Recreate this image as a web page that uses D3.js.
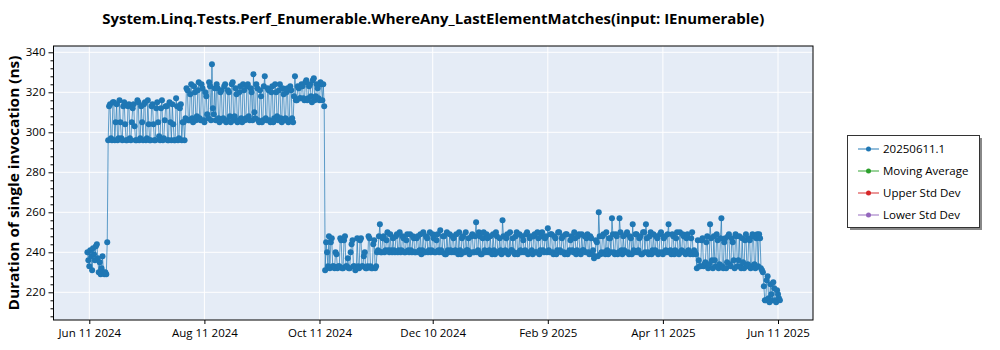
<!DOCTYPE html>
<html><head><meta charset="utf-8">
<script src="https://cdn.jsdelivr.net/npm/d3@7"></script>
<style>
body{margin:0;background:#fff;}
text{font-family:"Open Sans","Noto Sans",sans-serif;}
</style>
</head><body>
<svg id="chart" width="1000" height="350"></svg>
<script>
const chartTitle = "System.Linq.Tests.Perf_Enumerable.WhereAny_LastElementMatches(input: IEnumerable)";
const yAxisTitle = "Duration of single invocation (ns)";
const seriesNames = ["20250611.1", "Moving Average", "Upper Std Dev", "Lower Std Dev"];
const seriesColors = ["#1f77b4", "#2ca02c", "#d62728", "#9467bd"];
const xTickLabels = ["Jun 11 2024", "Aug 11 2024", "Oct 11 2024", "Dec 10 2024", "Feb 9 2025", "Apr 11 2025", "Jun 11 2025"];
const yTickValues = [220, 240, 260, 280, 300, 320, 340];

// two runs per day (morning / evening); each month array starts at the given date
const monthStarts = ["2024-06-10","2024-07-01","2024-08-01","2024-09-01","2024-10-01","2024-11-01","2024-12-01",
                     "2025-01-01","2025-02-01","2025-03-01","2025-04-01","2025-05-01","2025-06-01"];
// morning runs
const jun2024 = [240,233,238,242,236,244,230,229,238,229,229,296,314,296,315,305,296,316,297,313,304];
const jul2024 = [296,314,296,312,303,296,315,297,305,314,296,316,296,313,304,296,315,298,312,296,306,313,296,305,314,296,317,296,312,296,305];
const aug2024 = [307,321,306,324,305,320,308,325,306,322,305,318,307,323,334,309,306,322,305,321,307,324,306,320,305,325,308,319,306,323,305];
const sep2024 = [321,307,324,306,320,329,307,322,305,318,306,328,306,321,305,323,307,320,306,324,305,319,307,322,306,321,305,328,316,322];
const oct2024 = [317,323,316,326,317,324,315,327,318,322,316,324,324,231,240,248,245,233,232,239,233,247,232,246,233,237,232,244,233,231,247];
const nov2024 = [232,247,233,240,232,248,233,232,246,233,241,254,240,248,241,250,240,241,247,240,249,241,240,248,240,246,241,249,240,247];
const dec2024 = [240,248,241,239,250,240,247,241,240,249,240,246,241,251,240,248,239,241,249,240,247,241,240,250,239,248,240,241,247,240,249];
const jan2025 = [240,255,241,248,239,250,240,247,241,240,249,239,248,240,241,256,240,247,239,250,241,240,248,239,249,240,246,241,250,240,248];
const feb2025 = [239,249,240,247,241,250,240,248,252,240,249,239,247,241,250,240,248,239,249,240,246,241,250,239,248,240,249,241];
const mar2025 = [240,249,239,247,241,238,245,260,239,248,240,250,239,247,257,240,249,239,257,241,248,240,250,239,247,254,240,249,241,248,239];
const apr2025 = [250,254,240,248,239,249,241,247,240,250,239,248,240,254,241,249,239,247,240,250,241,248,239,249,240,247,239,240,232,236];
const may2025 = [233,247,234,245,232,254,236,248,233,246,234,257,232,247,235,249,233,245,232,248,236,233,247,232,249,234,246,233,248,232,249];
const jun2025 = [249,232,230,216,226,217,224,216,222,215,219,216];
// evening runs
const jun2024b = [236,241,231,239,243,237,235,232,230,230,245,313,297,315,296,314,297,305,296,315,296];
const jul2024b = [313,297,305,314,296,316,296,313,296,315,297,304,296,314,296,312,305,296,316,297,313,296,315,296,304,296,313,297,314,305,296];
const aug2024b = [322,306,319,307,323,306,321,307,324,306,320,309,325,306,312,322,324,307,320,306,323,305,321,308,324,306,322,305,320,307,324];
const sep2024b = [306,323,308,322,306,310,324,306,321,305,323,307,322,306,320,305,324,308,321,307,322,306,320,305,323,307,318,316,323,317];
const oct2024b = [324,317,325,316,323,318,326,316,324,317,325,316,313,245,233,232,247,233,240,232,233,246,232,248,233,232,240,246,233,232,233];
const nov2024b = [246,233,238,232,233,247,232,244,232,240,248,240,247,240,246,241,249,240,241,248,240,250,241,247,240,249,240,241,248,240];
const dec2024b = [247,240,249,241,240,248,240,250,241,247,240,249,240,241,248,239,250,240,241,248,240,249,239,241,247,240,250,241,239,248,240];
const jan2025b = [248,240,250,239,247,241,249,240,248,239,241,250,240,247,239,248,241,249,240,241,247,239,250,240,241,248,240,249,239,247,241];
const feb2025b = [248,240,250,239,248,241,247,240,241,249,240,248,239,250,241,247,240,249,239,241,248,240,247,241,249,239,241,248];
const mar2025b = [247,240,248,239,237,246,238,248,240,249,239,241,247,240,249,239,248,240,250,239,241,249,240,248,239,241,249,240,247,239,250];
const apr2025b = [240,247,239,250,241,240,248,239,249,240,247,241,249,240,239,248,241,250,239,240,249,240,247,241,239,250,241,239,246,233];
const may2025b = [246,233,235,248,234,247,232,236,249,232,247,233,245,232,248,234,247,236,249,233,248,232,235,246,233,247,232,249,234,247,233];
const jun2025b = [247,231,223,216,228,215,219,225,216,221,217];

const morning = [jun2024,jul2024,aug2024,sep2024,oct2024,nov2024,dec2024,jan2025,feb2025,mar2025,apr2025,may2025,jun2025];
const evening = [jun2024b,jul2024b,aug2024b,sep2024b,oct2024b,nov2024b,dec2024b,jan2025b,feb2025b,mar2025b,apr2025b,may2025b,jun2025b];

const parseISO = d3.utcParse("%Y-%m-%d");
const data = [];
function addRuns(list, hourOffset) {
  list.forEach((vals, mi) => {
    const start = parseISO(monthStarts[mi]);
    const nextMonth = d3.utcMonth.offset(d3.utcMonth.floor(start), 1);
    vals.forEach((v, i) => {
      const d = d3.utcHour.offset(d3.utcDay.offset(start, i), hourOffset);
      if (d < nextMonth) data.push({date: d, value: v});
    });
  });
}
addRuns(morning, 0);
addRuns(evening, 12);
data.sort((a, b) => a.date - b.date);

const svg = d3.select("#chart");
const L = 53.5, R = 813, T = 46, B = 320;
const parseTick = d3.utcParse("%b %d %Y");
const xTickDates = xTickLabels.map(parseTick);
const x = d3.scaleUtc().domain([xTickDates[0], xTickDates[xTickDates.length-1]]).range([89.3, 778]);
const y = d3.scaleLinear().domain([220, 340]).range([292.3, 52.3]);

// plot background
svg.append("rect").attr("x", L).attr("y", T).attr("width", R-L).attr("height", B-T).attr("fill", "#e5ecf6");

// grid
svg.append("g").selectAll("line").data(yTickValues).join("line")
  .attr("x1", L).attr("x2", R).attr("y1", d => y(d)).attr("y2", d => y(d))
  .attr("stroke", "#fff").attr("stroke-width", 1);
svg.append("g").selectAll("line").data(xTickDates).join("line")
  .attr("y1", T).attr("y2", B).attr("x1", d => x(d)).attr("x2", d => x(d))
  .attr("stroke", "#fff").attr("stroke-width", 1);

// data
svg.append("clipPath").attr("id", "clip").append("rect").attr("x", L).attr("y", T).attr("width", R-L).attr("height", B-T);
const g = svg.append("g").attr("clip-path", "url(#clip)");
const line = d3.line().x(d => x(d.date)).y(d => y(d.value));
g.append("path").datum(data).attr("d", line).attr("fill", "none")
  .attr("stroke", seriesColors[0]).attr("stroke-width", 1).attr("stroke-opacity", 0.7);
g.append("g").selectAll("circle").data(data).join("circle")
  .attr("cx", d => x(d.date)).attr("cy", d => y(d.value)).attr("r", 3)
  .attr("fill", seriesColors[0]);

// frame
svg.append("rect").attr("x", L).attr("y", T).attr("width", R-L).attr("height", B-T)
  .attr("fill", "none").attr("stroke", "#000").attr("stroke-width", 1);

// axes
const fmt = d3.utcFormat("%b %-d %Y");
const xAxis = svg.append("g").attr("transform", `translate(0,${B})`)
  .call(d3.axisBottom(x).tickValues(xTickDates).tickFormat(fmt).tickSizeInner(4).tickSizeOuter(0));
xAxis.select(".domain").remove();
xAxis.selectAll("text").attr("font-size", 11.5).attr("fill", "#000").attr("dy", "0.9em");
xAxis.selectAll("line").attr("stroke", "#000");

const yAxis = svg.append("g").attr("transform", `translate(${L},0)`)
  .call(d3.axisLeft(y).tickValues(yTickValues).tickSizeInner(5).tickSizeOuter(0));
yAxis.select(".domain").remove();
yAxis.selectAll("text").attr("font-size", 11.5).attr("fill", "#000");
yAxis.selectAll("line").attr("stroke", "#000");
const minorTicks = d3.range(208, 344, 4).filter(v => !yTickValues.includes(v));
const yMinor = svg.append("g").attr("transform", `translate(${L},0)`)
  .call(d3.axisLeft(y).tickValues(minorTicks).tickSizeInner(3).tickSizeOuter(0).tickFormat(""));
yMinor.select(".domain").remove();
yMinor.selectAll("line").attr("stroke", "#000");

// titles
svg.append("text").attr("x", (L+R)/2).attr("y", 24).attr("text-anchor", "middle")
  .attr("font-size", 14).attr("font-weight", "bold").attr("textLength", 662).attr("lengthAdjust", "spacingAndGlyphs")
  .text(chartTitle);
svg.append("text").attr("transform", `translate(19,${(T+B)/2}) rotate(-90)`).attr("text-anchor", "middle")
  .attr("font-size", 15).attr("font-weight", "bold").attr("textLength", 255).attr("lengthAdjust", "spacingAndGlyphs")
  .text(yAxisTitle);

// legend
const lg = svg.append("g");
lg.append("rect").attr("x", 850).attr("y", 138).attr("width", 132).attr("height", 92).attr("fill", "#888");
lg.append("rect").attr("x", 847.5).attr("y", 135.5).attr("width", 132).attr("height", 92)
  .attr("fill", "#fff").attr("stroke", "#333").attr("stroke-width", 1);
const rowY = [149, 171, 193, 215];
const items = lg.selectAll("g.item").data(seriesNames).join("g").attr("class", "item")
  .attr("transform", (d, i) => `translate(0,${rowY[i]})`);
items.append("line").attr("x1", 858).attr("x2", 879).attr("y1", 0).attr("y2", 0)
  .attr("stroke", (d, i) => seriesColors[i]).attr("stroke-width", 1.2).attr("stroke-opacity", 0.8);
items.append("circle").attr("cx", 868.5).attr("cy", 0).attr("r", 2.5).attr("fill", (d, i) => seriesColors[i]);
items.append("text").attr("x", 883).attr("y", 0).attr("dy", "0.35em").attr("font-size", 11.5).attr("fill", "#000")
  .text(d => d);
</script>
</body></html>
